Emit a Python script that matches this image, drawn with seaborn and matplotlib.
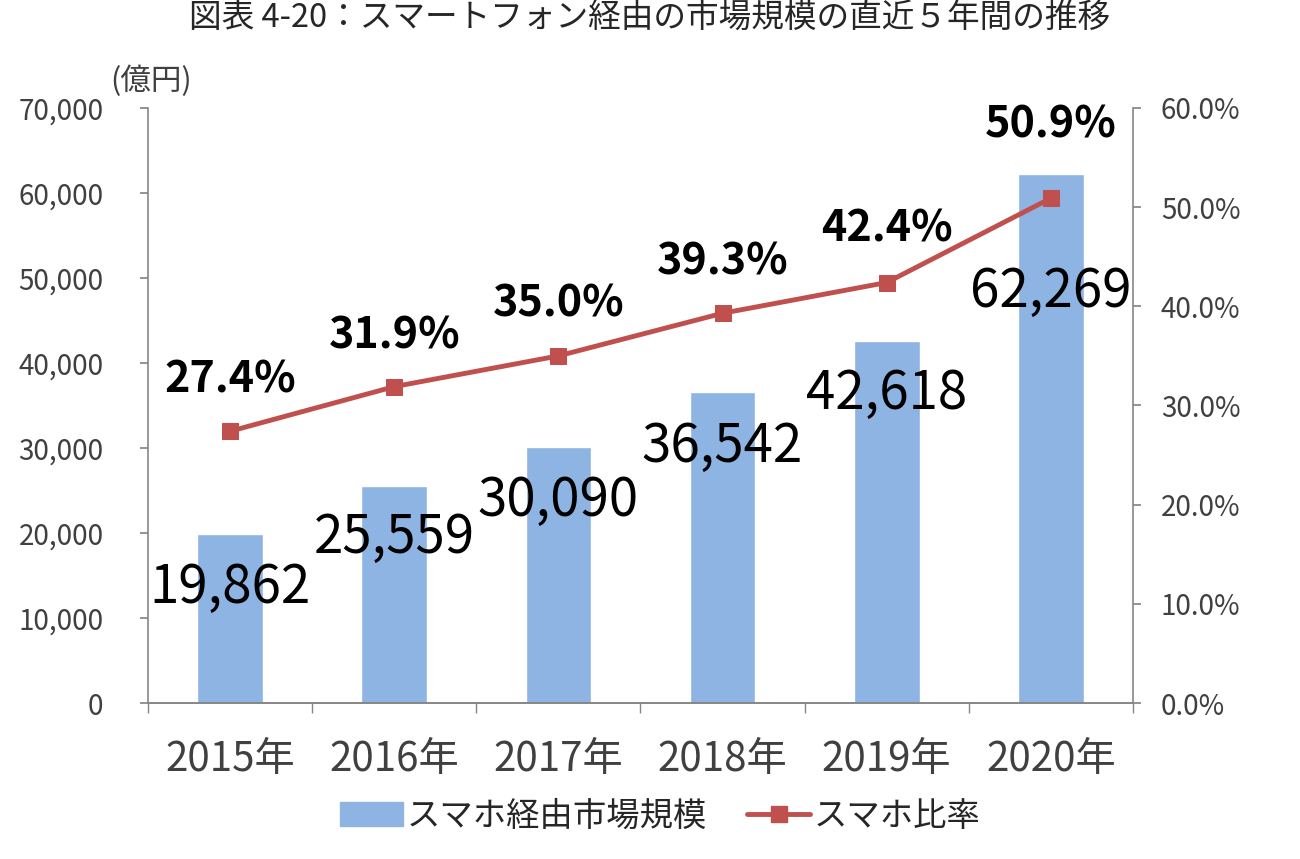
import numpy as np
import pandas as pd
import matplotlib
matplotlib.use("Agg")
import matplotlib.pyplot as plt
import seaborn as sns
from matplotlib.lines import Line2D
from matplotlib.patches import Patch
from matplotlib.ticker import FuncFormatter, FixedLocator

years = ["2015年", "2016年", "2017年", "2018年", "2019年", "2020年"]
market_size = [19862, 25559, 30090, 36542, 42618, 62269]
smartphone_ratio = [27.4, 31.9, 35.0, 39.3, 42.4, 50.9]

title = "図表 4-20：スマートフォン経由の市場規模の直近５年間の推移"
bar_name = "スマホ経由市場規模"
line_name = "スマホ比率"
unit_label = "(億円)"

BAR_COLOR = "#8DB4E2"
LINE_COLOR = "#C0504D"
AXIS_COLOR = "#868686"
TICK_TEXT = "#404040"

sns.set_theme(style="white")
plt.rcParams["font.family"] = ["Noto Sans CJK JP", "DejaVu Sans"]

df = pd.DataFrame({"year": years, "size": market_size, "ratio": smartphone_ratio})

fig = plt.figure(figsize=(13, 8.59), dpi=100)
ax = fig.add_axes([0.1138, 0.1816, 0.7577, 0.6927])

sns.barplot(data=df, x="year", y="size", color=BAR_COLOR, width=0.4,
            saturation=1, ax=ax)
ax.set_ylim(0, 70000)
ax.set_xlim(-0.5, len(years) - 0.5)
ax.set_yticks(np.arange(0, 70001, 10000))
ax.yaxis.set_major_formatter(FuncFormatter(lambda v, p: f"{int(v):,}"))
ax.set_xlabel("")
ax.set_ylabel("")

# bar value labels (last one sits lower inside the bar)
bar_offsets = [-6300, -6100, -6200, -6400, -6200, -13800]
for i, (v, off) in enumerate(zip(market_size, bar_offsets)):
    ax.text(i, v + off, f"{v:,}", ha="center", va="center", fontsize=38,
            color="black")

ax2 = ax.twinx()
sns.lineplot(x=np.arange(len(years)), y=smartphone_ratio, ax=ax2,
             color=LINE_COLOR, linewidth=3.5, marker="s", markersize=11,
             markeredgecolor=LINE_COLOR, markerfacecolor=LINE_COLOR)
ax2.set_ylim(0, 60)
ax2.set_yticks(np.arange(0, 61, 10))
ax2.yaxis.set_major_formatter(FuncFormatter(lambda v, p: f"{v:.1f}%"))
ax2.set_xlim(-0.5, len(years) - 0.5)

pct_offsets = [37, 37, 38, 37, 39, 53]
for i, (r, off) in enumerate(zip(smartphone_ratio, pct_offsets)):
    ax2.annotate(f"{r:.1f}%", (i, r), xytext=(0, off), textcoords="offset points",
                 ha="center", va="center", fontsize=31, fontweight="bold",
                 color="black")

for a in (ax, ax2):
    for s in a.spines.values():
        s.set_color(AXIS_COLOR)
        s.set_linewidth(1.2)
    a.spines["top"].set_visible(False)
ax.spines["right"].set_visible(False)
ax2.spines["left"].set_visible(False)

ax.tick_params(axis="y", direction="out", length=6, color=AXIS_COLOR,
               labelsize=20, labelcolor=TICK_TEXT, left=True, pad=26)
ax2.tick_params(axis="y", direction="out", length=6, color=AXIS_COLOR,
                labelsize=20, labelcolor=TICK_TEXT, right=True, pad=14)
ax.tick_params(axis="x", which="major", length=0, labelsize=29,
               labelcolor=TICK_TEXT, pad=26)
ax.xaxis.set_minor_locator(FixedLocator(np.arange(-0.5, len(years), 1.0)))
ax.tick_params(axis="x", which="minor", direction="out", length=7,
               color=AXIS_COLOR, bottom=True)

fig.text(0.5, 0.978, title, ha="center", va="center", fontsize=23.5)
fig.text(0.085, 0.905, unit_label, ha="left", va="center", fontsize=22,
         color=TICK_TEXT)

handles = [Patch(facecolor=BAR_COLOR, edgecolor=BAR_COLOR),
           Line2D([0], [0], color=LINE_COLOR, linewidth=3.5, marker="s",
                  markersize=11)]
fig.legend(handles, [bar_name, line_name], loc="center",
           bbox_to_anchor=(0.508, 0.05), ncol=2, frameon=False, fontsize=24,
           handlelength=1.9, handletextpad=0.1, columnspacing=1.2)

fig.savefig("out.png", dpi=100)
